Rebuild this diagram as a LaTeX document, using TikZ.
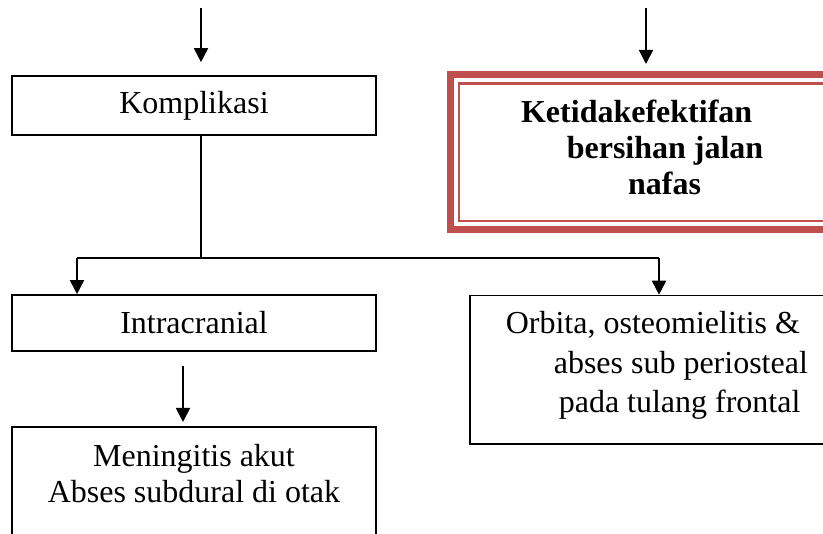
\documentclass[tikz,border=0pt]{standalone}
\usepackage{fontspec}
\setmainfont{Liberation Serif}
\usetikzlibrary{calc,arrows.meta,positioning}
\definecolor{merah}{HTML}{C0504D}

\begin{document}
\begin{tikzpicture}[x=1pt,y=-1pt,
    kotak/.style={draw, line width=1.6pt, inner sep=0pt, font=\fontsize{32}{36}\selectfont},
    panah/.style={line width=1.8pt, -{Triangle[length=14pt,width=14pt]}},
    garis/.style={line width=1.8pt}]
    \useasboundingbox (0,0) rectangle (823,534);
    \clip (0,0) rectangle (823,534);

    % ujung panah yang datang dari atas
    \coordinate (atas1) at (201,8);
    \coordinate (atas2) at (646,8);

    % kotak kiri
    \node[kotak, minimum width=364pt, minimum height=59pt] (komplikasi) at (194,105.5) {Komplikasi};
    \node[kotak, minimum width=364pt, minimum height=56pt] (intracranial) at (194,323) {Intracranial};
    \node[kotak, anchor=north, minimum width=364pt, inner ysep=17pt, text depth=150pt, align=center]
        (meningitis) at (194,426) {Meningitis akut\\Abses subdural di otak};

    % kotak kanan (terpotong di tepi kanan)
    \node[kotak, anchor=north west, minimum height=148.6pt, text width=330pt, inner xsep=35.7pt,
        text depth=94pt, align=flush left]
        (orbita) at (469.3,294.7) {Orbita, osteomielitis \&\\[3.5pt]
        \hspace*{48pt}abses sub periosteal\\[3.5pt]
        \hspace*{53pt}pada tulang frontal};
    \node[kotak, draw=merah, line width=2.2pt, anchor=north west, minimum height=137.5pt,
        text width=280pt, inner xsep=62pt, text depth=83pt, align=flush left,
        font=\fontsize{32}{36.3}\selectfont\bfseries]
        (ketidak) at (458,82.5) {Ketidakefektifan\\
        \hspace*{45.7pt}bersihan jalan\\
        \hspace*{107pt}nafas};
    \draw[merah, line width=7pt] ($(ketidak.north west)+(-7.7,-7.7)$) rectangle ($(ketidak.south east)+(7.7,7.7)$);

    % titik percabangan
    \coordinate (cabang) at (201,258);
    \coordinate (kiri) at (77,258);
    \coordinate (kanan) at (659,258);

    \draw[panah, shorten >=13pt] (atas1) -- (atas1 |- komplikasi.north);
    \draw[panah, shorten >=18.5pt] (atas2) -- (atas2 |- ketidak.north);

    \draw[garis] (cabang |- komplikasi.south) -- (cabang);
    \draw[garis] (kiri) -- (kanan);
    \draw[panah] (kiri) -- (kiri |- intracranial.north);
    \draw[panah] (kanan) -- (kanan |- orbita.north);
    \draw[panah, shorten <=14pt, shorten >=4pt] ($(intracranial.south)+(-11,0)$) -- ($(meningitis.north)+(-11,0)$);
\end{tikzpicture}
\end{document}
